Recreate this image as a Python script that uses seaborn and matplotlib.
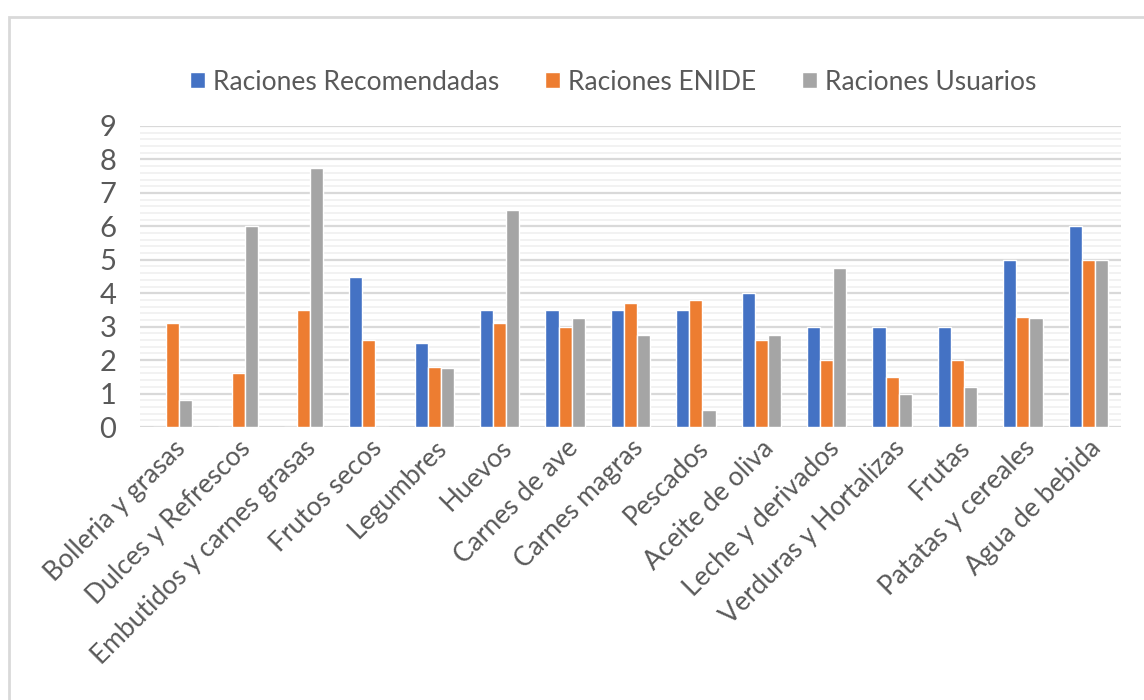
import numpy as np
import matplotlib
matplotlib.use('Agg')
import matplotlib.pyplot as plt
from matplotlib.patches import Rectangle
from matplotlib.ticker import MultipleLocator
import seaborn as sns
import pandas as pd

# chart values

categorias = ['Bolleria y grasas', 'Dulces y Refrescos', 'Embutidos y carnes grasas',
              'Frutos secos', 'Legumbres', 'Huevos', 'Carnes de ave', 'Carnes magras',
              'Pescados', 'Aceite de oliva', 'Leche y derivados', 'Verduras y Hortalizas',
              'Frutas', 'Patatas y cereales', 'Agua de bebida']
recomendadas = [0, 0, 0, 4.5, 2.5, 3.5, 3.5, 3.5, 3.5, 4.0, 3.0, 3.0, 3.0, 5.0, 6.0]
enide = [3.1, 1.6, 3.5, 2.6, 1.8, 3.1, 3.0, 3.7, 3.8, 2.6, 2.0, 1.5, 2.0, 3.3, 5.0]
usuarios = [0.8, 6.0, 7.75, 0, 1.75, 6.5, 3.25, 2.75, 0.5, 2.75, 4.75, 1.0, 1.2, 3.25, 5.0]
series = ['Raciones Recomendadas', 'Raciones ENIDE', 'Raciones Usuarios']
colores = ['#4472C4', '#ED7D31', '#A5A5A5']

# long format for seaborn

df = pd.DataFrame({
    'categoria': categorias * 3,
    'serie': [series[0]] * 15 + [series[1]] * 15 + [series[2]] * 15,
    'valor': recomendadas + enide + usuarios,
})

sns.set_style('white')
plt.rcParams['font.family'] = ['Lato', 'DejaVu Sans']
texto = '#595959'

fig = plt.figure(figsize=(11.44, 7.0), dpi=100)
ax = fig.add_axes([140 / 1144, 1 - 427 / 700, (1121 - 140) / 1144, (427 - 126) / 700])

sns.barplot(data=df, x='categoria', y='valor', hue='serie', palette=colores,
            width=0.6, saturation=1, ax=ax, legend=True)

ax.set_ylim(0, 9)
ax.set_xlim(-0.5, 14.5)
ax.yaxis.set_major_locator(MultipleLocator(1))
ax.yaxis.set_minor_locator(MultipleLocator(0.2))
ax.grid(axis='y', which='major', color='#D9D9D9', linewidth=1.6, zorder=0)
ax.grid(axis='y', which='minor', color='#F0F0F0', linewidth=1.2, zorder=0)
ax.set_axisbelow(True)
for s in ax.spines.values():
    s.set_visible(False)

ax.set_xlabel('')
ax.set_ylabel('')
ax.tick_params(axis='y', length=0, pad=17, labelsize=21, labelcolor=texto)
ax.tick_params(axis='x', length=0, pad=6, labelsize=19, labelcolor=texto)
plt.setp(ax.get_xticklabels(), rotation=45, ha='right', va='top', rotation_mode='anchor')

# legend at top

handles, labels = ax.get_legend_handles_labels()
ax.get_legend().remove()
fig.legend(handles, labels, loc='center', bbox_to_anchor=(0.536, 1 - 82 / 700), ncol=3,
           frameon=False, fontsize=19, labelcolor=texto, handlelength=0.55, handleheight=0.55,
           handletextpad=0.3, columnspacing=1.75)

# outer chart border

fig.patches.append(Rectangle((9 / 1144, -0.1), 1.2, 1 - 17 / 700 + 0.1, transform=fig.transFigure,
                             fill=False, edgecolor='#D9D9D9', linewidth=2))

plt.savefig('out.png', dpi=100)
